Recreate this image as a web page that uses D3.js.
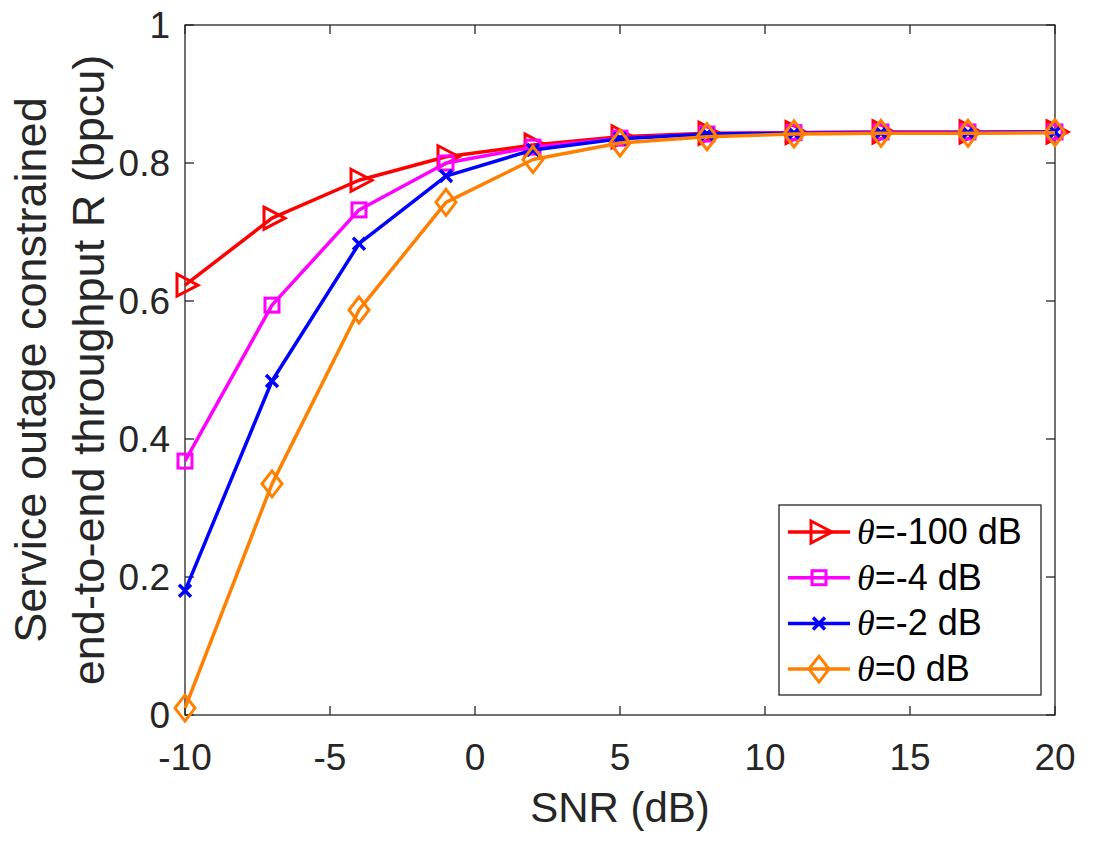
<!DOCTYPE html>
<html>
<head>
<meta charset="utf-8">
<script src="https://cdn.jsdelivr.net/npm/d3@7"></script>
<style>
  body { margin: 0; background: #fff; }
  text { font-family: "Liberation Sans", Arial, sans-serif; fill: #262626; }
</style>
</head>
<body>
<svg id="chart" width="1098" height="855"></svg>
<script>
// data
var snr = [-10, -7, -4, -1, 2, 5, 8, 11, 14, 17, 20];
var thr100 = [0.623, 0.720, 0.775, 0.809, 0.826, 0.838, 0.843, 0.844, 0.845, 0.845, 0.845];
var thr4 = [0.368, 0.594, 0.732, 0.800, 0.823, 0.836, 0.842, 0.844, 0.845, 0.845, 0.845];
var thr2 = [0.180, 0.484, 0.683, 0.781, 0.819, 0.835, 0.842, 0.843, 0.844, 0.844, 0.845];
var thr0 = [0.010, 0.335, 0.587, 0.743, 0.805, 0.829, 0.838, 0.842, 0.843, 0.843, 0.844];
var seriesNames = ["=-100 dB", "=-4 dB", "=-2 dB", "=0 dB"];
var xTicks = [-10, -5, 0, 5, 10, 15, 20];
var yTicks = [0, 0.2, 0.4, 0.6, 0.8, 1];

var series = [
  {name: seriesNames[0], vals: thr100, color: "#ff0000", marker: "tri"},
  {name: seriesNames[1], vals: thr4, color: "#ff00ff", marker: "sq"},
  {name: seriesNames[2], vals: thr2, color: "#0000ff", marker: "x"},
  {name: seriesNames[3], vals: thr0, color: "#ff8000", marker: "dia"}
];

var pL = 185, pR = 1055, pT = 25, pB = 715;
var svg = d3.select("#chart");

var x = d3.scaleLinear().domain([-10, 20]).range([pL, pR]);
var y = d3.scaleLinear().domain([0, 1]).range([pB, pT]);

// box + ticks (inward, mirrored)
var axisCol = "#262626";
svg.append("rect").attr("x", pL).attr("y", pT).attr("width", pR - pL).attr("height", pB - pT)
  .attr("fill", "none").attr("stroke", axisCol).attr("stroke-width", 1.3);

xTicks.forEach(function(t){
  svg.append("line").attr("x1", x(t)).attr("x2", x(t)).attr("y1", pB).attr("y2", pB - 9).attr("stroke", axisCol).attr("stroke-width", 1.3);
  svg.append("line").attr("x1", x(t)).attr("x2", x(t)).attr("y1", pT).attr("y2", pT + 9).attr("stroke", axisCol).attr("stroke-width", 1.3);
  svg.append("text").attr("x", x(t)).attr("y", 770).attr("text-anchor", "middle")
    .style("font-size", "37px").text(t);
});
yTicks.forEach(function(t){
  svg.append("line").attr("x1", pL).attr("x2", pL + 9).attr("y1", y(t)).attr("y2", y(t)).attr("stroke", axisCol).attr("stroke-width", 1.3);
  svg.append("line").attr("x1", pR).attr("x2", pR - 9).attr("y1", y(t)).attr("y2", y(t)).attr("stroke", axisCol).attr("stroke-width", 1.3);
  svg.append("text").attr("x", 170).attr("y", y(t) + 13).attr("text-anchor", "end")
    .style("font-size", "37px").text(t);
});

svg.append("text").attr("x", (pL + pR) / 2).attr("y", 822).attr("text-anchor", "middle")
  .style("font-size", "42px").text("SNR (dB)");

var yl = svg.append("text").attr("transform", "translate(46," + ((pT + pB) / 2) + ") rotate(-90)")
  .attr("text-anchor", "middle").style("font-size", "45px");
yl.append("tspan").attr("x", 0).attr("dy", 0).text("Service outage constrained");
yl.append("tspan").attr("x", 0).attr("dy", 58).text("end-to-end throughput R (bpcu)");

// marker drawing
function drawMarker(g, type, cx, cy, color) {
  if (type == "tri") {
    g.append("path").attr("d", "M" + (cx - 8) + "," + (cy - 11) + "L" + (cx + 13) + "," + cy + "L" + (cx - 8) + "," + (cy + 11) + "Z")
      .attr("fill", "none").attr("stroke", color).attr("stroke-width", 3);
  } else if (type == "sq") {
    g.append("rect").attr("x", cx - 7).attr("y", cy - 7).attr("width", 14).attr("height", 14)
      .attr("fill", "none").attr("stroke", color).attr("stroke-width", 3);
  } else if (type == "x") {
    g.append("path").attr("d", "M" + (cx - 6) + "," + (cy - 6) + "L" + (cx + 6) + "," + (cy + 6) + "M" + (cx - 6) + "," + (cy + 6) + "L" + (cx + 6) + "," + (cy - 6))
      .attr("fill", "none").attr("stroke", color).attr("stroke-width", 3.5);
  } else if (type == "dia") {
    g.append("path").attr("d", "M" + cx + "," + (cy - 13) + "L" + (cx + 10) + "," + cy + "L" + cx + "," + (cy + 13) + "L" + (cx - 10) + "," + cy + "Z")
      .attr("fill", "none").attr("stroke", color).attr("stroke-width", 3);
  }
}

var line = d3.line().x(function(d, i){ return x(snr[i]); }).y(function(d){ return y(d); });

series.forEach(function(s){
  var g = svg.append("g");
  g.append("path").datum(s.vals).attr("d", line).attr("fill", "none")
    .attr("stroke", s.color).attr("stroke-width", 3.5).attr("stroke-linejoin", "round");
  s.vals.forEach(function(v, i){ drawMarker(g, s.marker, x(snr[i]), y(v), s.color); });
});

// legend
var lg = svg.append("g");
lg.append("rect").attr("x", 779).attr("y", 505).attr("width", 262).attr("height", 190)
  .attr("fill", "#fff").attr("stroke", axisCol).attr("stroke-width", 1.3);
series.forEach(function(s, i){
  var ly = 532 + i * 45.7;
  lg.append("line").attr("x1", 788).attr("x2", 850).attr("y1", ly).attr("y2", ly)
    .attr("stroke", s.color).attr("stroke-width", 3.5);
  drawMarker(lg, s.marker, 819, ly, s.color);
  var t = lg.append("text").attr("x", 857).attr("y", ly + 12).style("font-size", "36px").style("fill", "#000");
  t.append("tspan").style("font-family", "'Liberation Serif', 'Times New Roman', serif").style("font-style", "italic").text("θ");
  t.append("tspan").text(s.name);
});
</script>
</body>
</html>
